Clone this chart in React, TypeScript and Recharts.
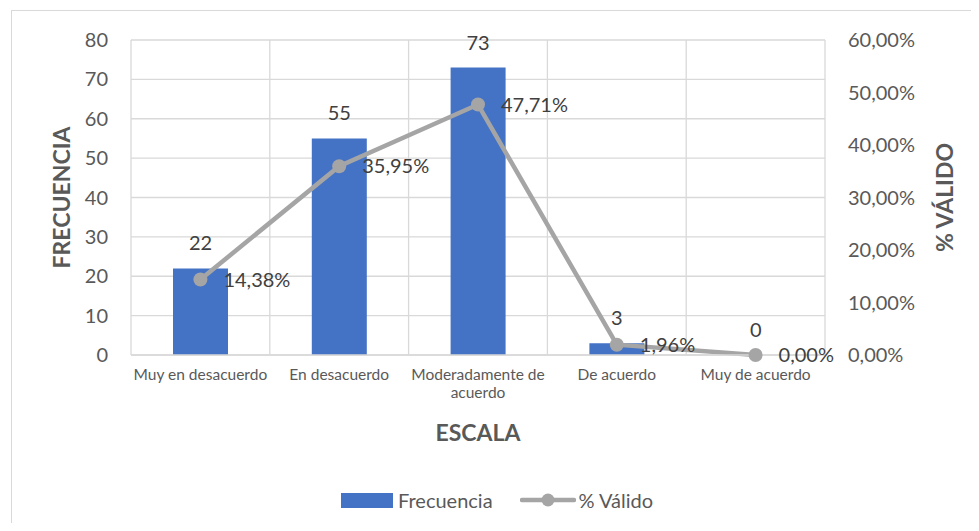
import React from 'react';
import {
  ComposedChart,
  Bar,
  Line,
  XAxis,
  YAxis,
  CartesianGrid,
  LabelList,
  Legend,
  Label,
  Text,
} from 'recharts';

const categories = [
  'Muy en desacuerdo',
  'En desacuerdo',
  'Moderadamente de acuerdo',
  'De acuerdo',
  'Muy de acuerdo',
];
const frecuencia = [22, 55, 73, 3, 0];
const pctValido = [0.1438, 0.3595, 0.4771, 0.0196, 0];
const leftTicks = [0, 10, 20, 30, 40, 50, 60, 70, 80];
const rightTicks = [0, 0.1, 0.2, 0.3, 0.4, 0.5, 0.6];
const seriesNames = { bar: 'Frecuencia', line: '% Válido' };
const axisTitles = { left: 'FRECUENCIA', right: '% VÁLIDO', x: 'ESCALA' };

const data = categories.map((c, i) => ({
  cat: c,
  frecuencia: frecuencia[i],
  pct: pctValido[i],
}));

const FONT = "Lato, 'Noto Sans', sans-serif";
const BAR_COLOR = '#4472C4';
const LINE_COLOR = '#A5A5A5';
const GRID = '#D9D9D9';
const TICK = '#595959';
const LABEL = '#404040';

const fmtPct = (v: number) => (v * 100).toFixed(2).replace('.', ',') + '%';

const XTick = (props: any) => {
  const { x, y, payload } = props;
  return (
    <Text
      x={x}
      y={y}
      width={150}
      textAnchor="middle"
      verticalAnchor="start"
      lineHeight={17.5}
      style={{ fontSize: 15.5, fontFamily: FONT }}
      fill={TICK}
    >
      {payload.value}
    </Text>
  );
};

const VTitle = (props: any) => {
  const { viewBox, value, dxPos } = props;
  const cx = viewBox.x + dxPos;
  const cy = viewBox.y + viewBox.height / 2;
  return (
    <text
      x={cx}
      y={cy}
      transform={`rotate(-90, ${cx}, ${cy})`}
      textAnchor="middle"
      dominantBaseline="central"
      fill={TICK}
      style={{ fontSize: 23, fontWeight: 700, fontFamily: FONT }}
    >
      {value}
    </text>
  );
};

const XTitle = (props: any) => {
  const { viewBox, value } = props;
  const cx = viewBox.x + viewBox.width / 2;
  const cy = viewBox.y + 77;
  return (
    <text
      x={cx}
      y={cy}
      textAnchor="middle"
      dominantBaseline="central"
      fill={TICK}
      style={{ fontSize: 23, fontWeight: 700, fontFamily: FONT }}
    >
      {value}
    </text>
  );
};

const LegendContent = () => (
  <div
    style={{
      display: 'flex',
      alignItems: 'center',
      height: 30,
      fontFamily: FONT,
      fontSize: 20,
      color: TICK,
      whiteSpace: 'nowrap',
    }}
  >
    <span style={{ display: 'inline-block', width: 52, height: 15, background: BAR_COLOR, marginRight: 5 }} />
    <span>{seriesNames.bar}</span>
    <svg width={56} height={16} style={{ marginLeft: 27, marginRight: 3 }}>
      <line x1={2} y1={8} x2={54} y2={8} stroke={LINE_COLOR} strokeWidth={4.5} strokeLinecap="round" />
      <circle cx={28} cy={8} r={6.5} fill={LINE_COLOR} />
    </svg>
    <span>{seriesNames.line}</span>
  </div>
);

export default function App() {
  return (
    <div style={{ position: 'relative', width: 963, height: 515, overflow: 'hidden' }}>
      <div
        style={{
          position: 'absolute',
          left: 3,
          top: 2,
          width: 2000,
          height: 2000,
          border: `1px solid ${GRID}`,
          boxSizing: 'border-box',
        }}
      />
      <ComposedChart
        width={963}
        height={515}
        data={data}
        margin={{ top: 32, right: 0, bottom: 8, left: 0 }}
        style={{ position: 'absolute', left: 0, top: 0 }}
      >
        <CartesianGrid
          yAxisId="left"
          stroke={GRID}
          strokeWidth={1.3}
          verticalCoordinatesGenerator={({ offset }: any) =>
            categories.map((_, i) => offset.left + (offset.width * i) / categories.length).concat([
              offset.left + offset.width,
            ])
          }
        />
        <XAxis
          dataKey="cat"
          height={130}
          interval={0}
          tickLine={false}
          tickSize={0}
          tickMargin={14}
          axisLine={{ stroke: GRID, strokeWidth: 1.3 }}
          tick={<XTick />}
        >
          <Label content={<XTitle value={axisTitles.x} />} />
        </XAxis>
        <YAxis
          yAxisId="left"
          width={123}
          domain={[0, 80]}
          ticks={leftTicks}
          interval={0}
          axisLine={false}
          tickLine={false}
          tickSize={0}
          tickMargin={23}
          tick={{ fill: TICK, fontSize: 20, fontFamily: FONT }}
        >
          <Label content={<VTitle value={axisTitles.left} dxPos={53} />} />
        </YAxis>
        <YAxis
          yAxisId="right"
          orientation="right"
          width={146}
          domain={[0, 0.6]}
          ticks={rightTicks}
          interval={0}
          axisLine={false}
          tickLine={false}
          tickSize={0}
          tickMargin={23}
          tickFormatter={fmtPct}
          tick={{ fill: TICK, fontSize: 20, fontFamily: FONT, textAnchor: 'start' }}
        >
          <Label content={<VTitle value={axisTitles.right} dxPos={119} />} />
        </YAxis>
        <Legend
          verticalAlign="bottom"
          content={<LegendContent />}
          wrapperStyle={{ left: 333, bottom: 8, width: 400, height: 30 }}
        />
        <Bar
          yAxisId="left"
          dataKey="frecuencia"
          name={seriesNames.bar}
          fill={BAR_COLOR}
          barSize={55}
          minPointSize={0.01}
          isAnimationActive={false}
        >
          <LabelList
            dataKey="frecuencia"
            position="top"
            offset={18}
            fill={LABEL}
            style={{ fontSize: 20, fontFamily: FONT }}
          />
        </Bar>
        <Line
          yAxisId="right"
          dataKey="pct"
          name={seriesNames.line}
          stroke={LINE_COLOR}
          strokeWidth={4.5}
          dot={{ r: 7, fill: LINE_COLOR, stroke: LINE_COLOR, strokeWidth: 0 }}
          activeDot={false}
          isAnimationActive={false}
        >
          <LabelList
            dataKey="pct"
            position="right"
            offset={23}
            formatter={(v: any) => fmtPct(Number(v))}
            fill={LABEL}
            style={{ fontSize: 20, fontFamily: FONT }}
          />
        </Line>
      </ComposedChart>
    </div>
  );
}
